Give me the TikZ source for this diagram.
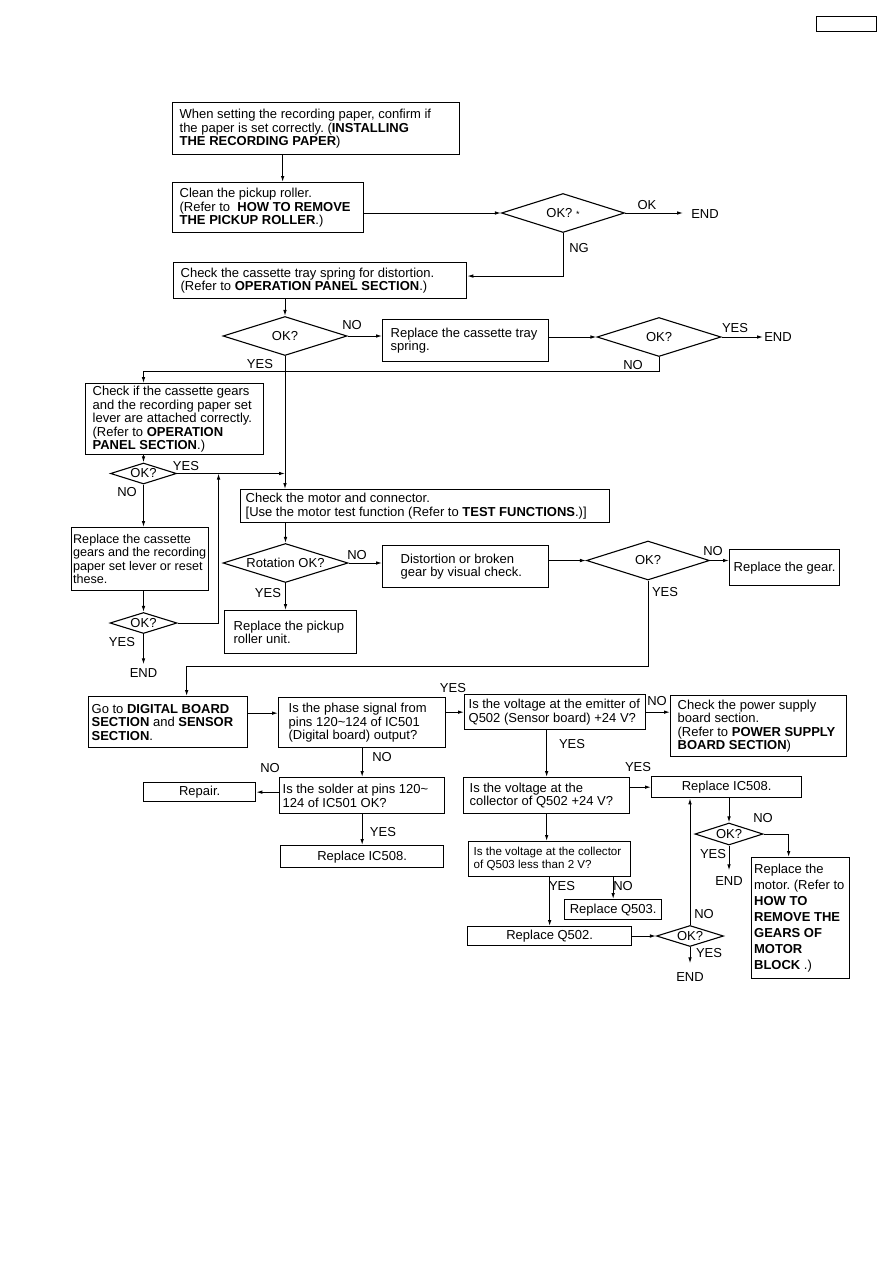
\documentclass[tikz,border=0pt]{standalone}
\usepackage{fontspec}
\setmainfont{Liberation Sans}
\frenchspacing
\usetikzlibrary{arrows.meta,shapes.geometric}

\begin{document}
\begin{tikzpicture}[
  x=1pt, y=-1pt,
  font=\fontsize{13pt}{13.5pt}\selectfont,
  box/.style={draw, line width=1.3pt, anchor=north west, align=flush left,
              inner xsep=7pt, inner ysep=0pt},
  one/.style={draw, line width=1.3pt, anchor=north west, inner sep=0pt},
  dia/.style={draw, diamond, aspect=3.2, line width=1.1pt, inner sep=0pt},
  lbl/.style={inner sep=1pt},
  ar/.style={-{Latex[length=6pt, width=3.6pt]}, line width=1pt}
]
\useasboundingbox (0,0) rectangle (893,1263);

\node[one, minimum width=60pt, minimum height=15pt] (pageno) at (816,16) {};

\node[box, text width=273pt, minimum height=52pt] (paper) at (172,102)
      {When setting the recording paper, confirm if\\the paper is set correctly. (\textbf{INSTALLING}\\\textbf{THE RECORDING PAPER})};
\node[box, text width=177pt, minimum height=50pt] (clean) at (172,182)
      {Clean the pickup roller.\\(Refer to\ \ \textbf{HOW TO REMOVE}\\\textbf{THE PICKUP ROLLER}.)};
\node[dia, minimum width=123pt, minimum height=39pt] (okclean) at (563,213)
      {OK? {\fontsize{9pt}{9pt}\selectfont *}};
\node[box, text width=279pt, minimum height=36pt] (spring) at (173,262)
      {Check the cassette tray spring for distortion.\\(Refer to \textbf{OPERATION PANEL SECTION}.)};
\node[dia, minimum width=124pt, minimum height=39pt] (okspring) at (285,336) {OK?};
\node[box, inner xsep=8pt, text width=150pt, minimum height=42pt] (repspring) at (382,319)
      {Replace the cassette tray\\spring.};
\node[dia, minimum width=124pt, minimum height=39pt] (okrep) at (659,337) {OK?};
\node[box, text width=164pt, minimum height=71pt] (gears) at (85,383)
      {Check if the cassette gears\\and the recording paper set\\lever are attached correctly.\\(Refer to \textbf{OPERATION}\\\textbf{PANEL SECTION}.)};
\node[dia, minimum width=66pt, minimum height=21pt] (okgears) at (143.5,473.5) {OK?};
\node[box, inner xsep=1.5pt, text width=134pt, minimum height=63pt,
      font=\fontsize{12.6pt}{13.5pt}\selectfont] (repgears) at (71,527)
      {Replace the cassette\\gears and the recording\\paper set lever or reset\\these.};
\node[dia, minimum width=67pt, minimum height=21pt] (okrepg) at (143.5,623) {OK?};
\node[box, inner xsep=5pt, text width=359pt, minimum height=33pt] (motor) at (240,489)
      {Check the motor and connector.\\{}[Use the motor test function (Refer to \textbf{TEST FUNCTIONS}.)]};
\node[dia, minimum width=125pt, minimum height=39pt] (rot) at (285.5,563) {Rotation OK?};
\node[box, inner xsep=18pt, text width=130pt, minimum height=42pt] (visual) at (382,545)
      {Distortion or broken\\gear by visual check.};
\node[dia, minimum width=123pt, minimum height=39pt] (okvis) at (648,560.5) {OK?};
\node[one, minimum width=110pt, minimum height=36pt] (repgear) at (729,549) {Replace the gear.};
\node[box, inner xsep=9pt, text width=114pt, minimum height=43pt] (roller) at (224,610)
      {Replace the pickup\\roller unit.};

\node[box, inner xsep=3pt, text width=153pt, minimum height=51pt] (digital) at (88,696)
      {Go to \textbf{DIGITAL BOARD}\\\textbf{SECTION} and \textbf{SENSOR}\\\textbf{SECTION}.};
\node[box, inner xsep=10pt, text width=147pt, minimum height=50pt] (phase) at (278,697)
      {Is the phase signal from\\pins 120\textasciitilde124 of IC501\\(Digital board) output?};
\node[box, inner xsep=4pt, text width=173pt, minimum height=35pt] (emit) at (464,694)
      {Is the voltage at the emitter of\\Q502 (Sensor board) +24 V?};
\node[box, text width=162pt, minimum height=61pt] (power) at (670,695)
      {Check the power supply\\board section.\\(Refer to \textbf{POWER SUPPLY}\\\textbf{BOARD SECTION})};
\node[box, inner xsep=3pt, text width=159pt, minimum height=36pt] (solder) at (279,777)
      {Is the solder at pins 120\textasciitilde\\124 of IC501 OK?};
\node[one, minimum width=112pt, minimum height=19pt] (repair) at (143,782) {Repair.};
\node[one, minimum width=163pt, minimum height=22pt] (icone) at (280,845) {Replace IC508.};
\node[box, inner xsep=6pt, text width=154pt, minimum height=36pt] (coll) at (463,777)
      {Is the voltage at the\\collector of Q502 +24 V?};
\node[one, minimum width=150pt, minimum height=21pt] (ictwo) at (651,776) {Replace IC508.};
\node[box, inner xsep=5pt, text width=152pt, minimum height=35pt,
      font=\fontsize{11.6pt}{13pt}\selectfont] (qlow) at (468,841)
      {Is the voltage at the collector\\of Q503 less than 2 V?};
\node[one, minimum width=97pt, minimum height=20pt] (rqthree) at (564,899) {Replace Q503.};
\node[one, minimum width=164pt, minimum height=19pt] (rqtwo) at (467,926) {Replace Q502.};
\node[dia, minimum width=67pt, minimum height=21pt] (okqtwo) at (690,936) {OK?};
\node[dia, minimum width=68pt, minimum height=22pt] (okic) at (729,834) {OK?};
\node[box, inner xsep=2.5pt, text width=93pt, minimum height=121pt,
      font=\fontsize{13pt}{16pt}\selectfont] (motorx) at (751,857)
      {Replace the\\motor. (Refer to\\\textbf{HOW TO}\\\textbf{REMOVE THE}\\\textbf{GEARS OF}\\\textbf{MOTOR}\\\textbf{BLOCK} .)};

\node[lbl] (lok) at (647,205) {OK};
\node[lbl] (endclean) at (705,214) {END};
\node[lbl] (lng) at (579,248) {NG};
\node[lbl] (lnoa) at (352,325) {NO};
\node[lbl] (lyesa) at (735,328) {YES};
\node[lbl] (endrep) at (778,337) {END};
\node[lbl] (lnob) at (633,365) {NO};
\node[lbl] (lyesb) at (260,364) {YES};
\node[lbl] (lyesc) at (186,466) {YES};
\node[lbl] (lnoc) at (127,492) {NO};
\node[lbl] (lyesd) at (122,642) {YES};
\node[lbl] (endg) at (143.5,673) {END};
\node[lbl] (lnod) at (357,555) {NO};
\node[lbl] (lyese) at (268,593) {YES};
\node[lbl] (lnoe) at (713,551) {NO};
\node[lbl] (lyesf) at (665,592) {YES};
\node[lbl] (lyesg) at (453,688) {YES};
\node[lbl] (lnof) at (657,701) {NO};
\node[lbl] (lnog) at (382,757) {NO};
\node[lbl] (lnoh) at (270,768) {NO};
\node[lbl] (lyesh) at (383,832) {YES};
\node[lbl] (lyesi) at (572,744) {YES};
\node[lbl] (lyesj) at (638,767) {YES};
\node[lbl] (lyesk) at (562,886) {YES};
\node[lbl] (lnoi) at (623,886) {NO};
\node[lbl] (lnoj) at (704,914) {NO};
\node[lbl] (lyesl) at (709,953) {YES};
\node[lbl] (endqtwo) at (690,977) {END};
\node[lbl] (lnok) at (763,818) {NO};
\node[lbl] (lyesm) at (713,854) {YES};
\node[lbl] (endic) at (729,881) {END};

\draw[ar] ([xshift=-33.5pt]paper.south) -- ([xshift=-33.5pt]paper.south |- clean.north);
\draw[ar] (okclean.west -| clean.east) -- (okclean.west);
\draw[ar, shorten >=7pt] (okclean.east) -- (okclean.east -| endclean.west);
\draw[ar] (okclean.south) -- ++(0,43) coordinate (ngturn) -- (ngturn -| spring.east);
\draw[ar] (spring.south -| okspring.north) -- (okspring.north);
\draw[ar] (okspring.east) -- (okspring.east -| repspring.west);
\draw[ar] (okrep.west -| repspring.east) -- (okrep.west);
\draw[ar] (okrep.east) -- (okrep.east -| endrep.west);
\draw[ar] (okrep.south) -- ++(0,14) -| (okgears.north |- gears.north);
\draw[ar] (okspring.south) -- (okspring.south |- motor.north);
\draw[ar] (okgears.north |- gears.south) -- (okgears.north);
\draw[ar] (okgears.east) -- (okgears.east -| okspring.south);
\draw[ar] (okgears.south) -- (okgears.south |- repgears.north);
\draw[ar] (okrepg.north |- repgears.south) -- (okrepg.north);
\draw[ar, shorten >=3pt] (okrepg.south) -- (okrepg.south |- endg.north);
\draw[ar] (okrepg.east) -- ++(41,0) coordinate (upturn) -- (upturn |- okgears.east);
\draw[ar] (rot.north |- motor.south) -- (rot.north);
\draw[ar] (rot.east) -- (rot.east -| visual.west);
\draw[ar] (okvis.west -| visual.east) -- (okvis.west);
\draw[ar] (okvis.east) -- (okvis.east -| repgear.west);
\draw[ar] (rot.south) -- (rot.south |- roller.north);
\draw[ar] (okvis.south) -- ++(0,86) -| ([xshift=18.5pt]digital.north);
\draw[ar] ([yshift=9pt]digital.east) -- ([yshift=9pt]digital.east -| phase.west);
\draw[ar] (emit.west -| phase.east) -- (emit.west);
\draw[ar] (emit.east) -- (emit.east -| power.west);
\draw[ar] (phase.south) -- (solder.north);
\draw[ar] (repair.east -| solder.west) -- (repair.east);
\draw[ar] (solder.south) -- (solder.south |- icone.north);
\draw[ar] (coll.north |- emit.south) -- (coll.north);
\draw[ar] (ictwo.west -| coll.east) -- (ictwo.west);
\draw[ar] (coll.south) -- (coll.south |- qlow.north);
\draw[ar] (rqtwo.north |- qlow.south) -- (rqtwo.north);
\draw[ar] (rqthree.north |- qlow.south) -- (rqthree.north);
\draw[ar] (okqtwo.west -| rqtwo.east) -- (okqtwo.west);
\draw[ar] (okqtwo.north) -- (okqtwo.north |- ictwo.south);
\draw[ar, shorten >=8pt] (okqtwo.south) -- (okqtwo.south |- endqtwo.north);
\draw[ar] (okic.north |- ictwo.south) -- (okic.north);
\draw[ar] (okic.east) -| ([xshift=-12pt]motorx.north);
\draw[ar, shorten >=5pt] (okic.south) -- (okic.south |- endic.north);
\end{tikzpicture}
\end{document}
